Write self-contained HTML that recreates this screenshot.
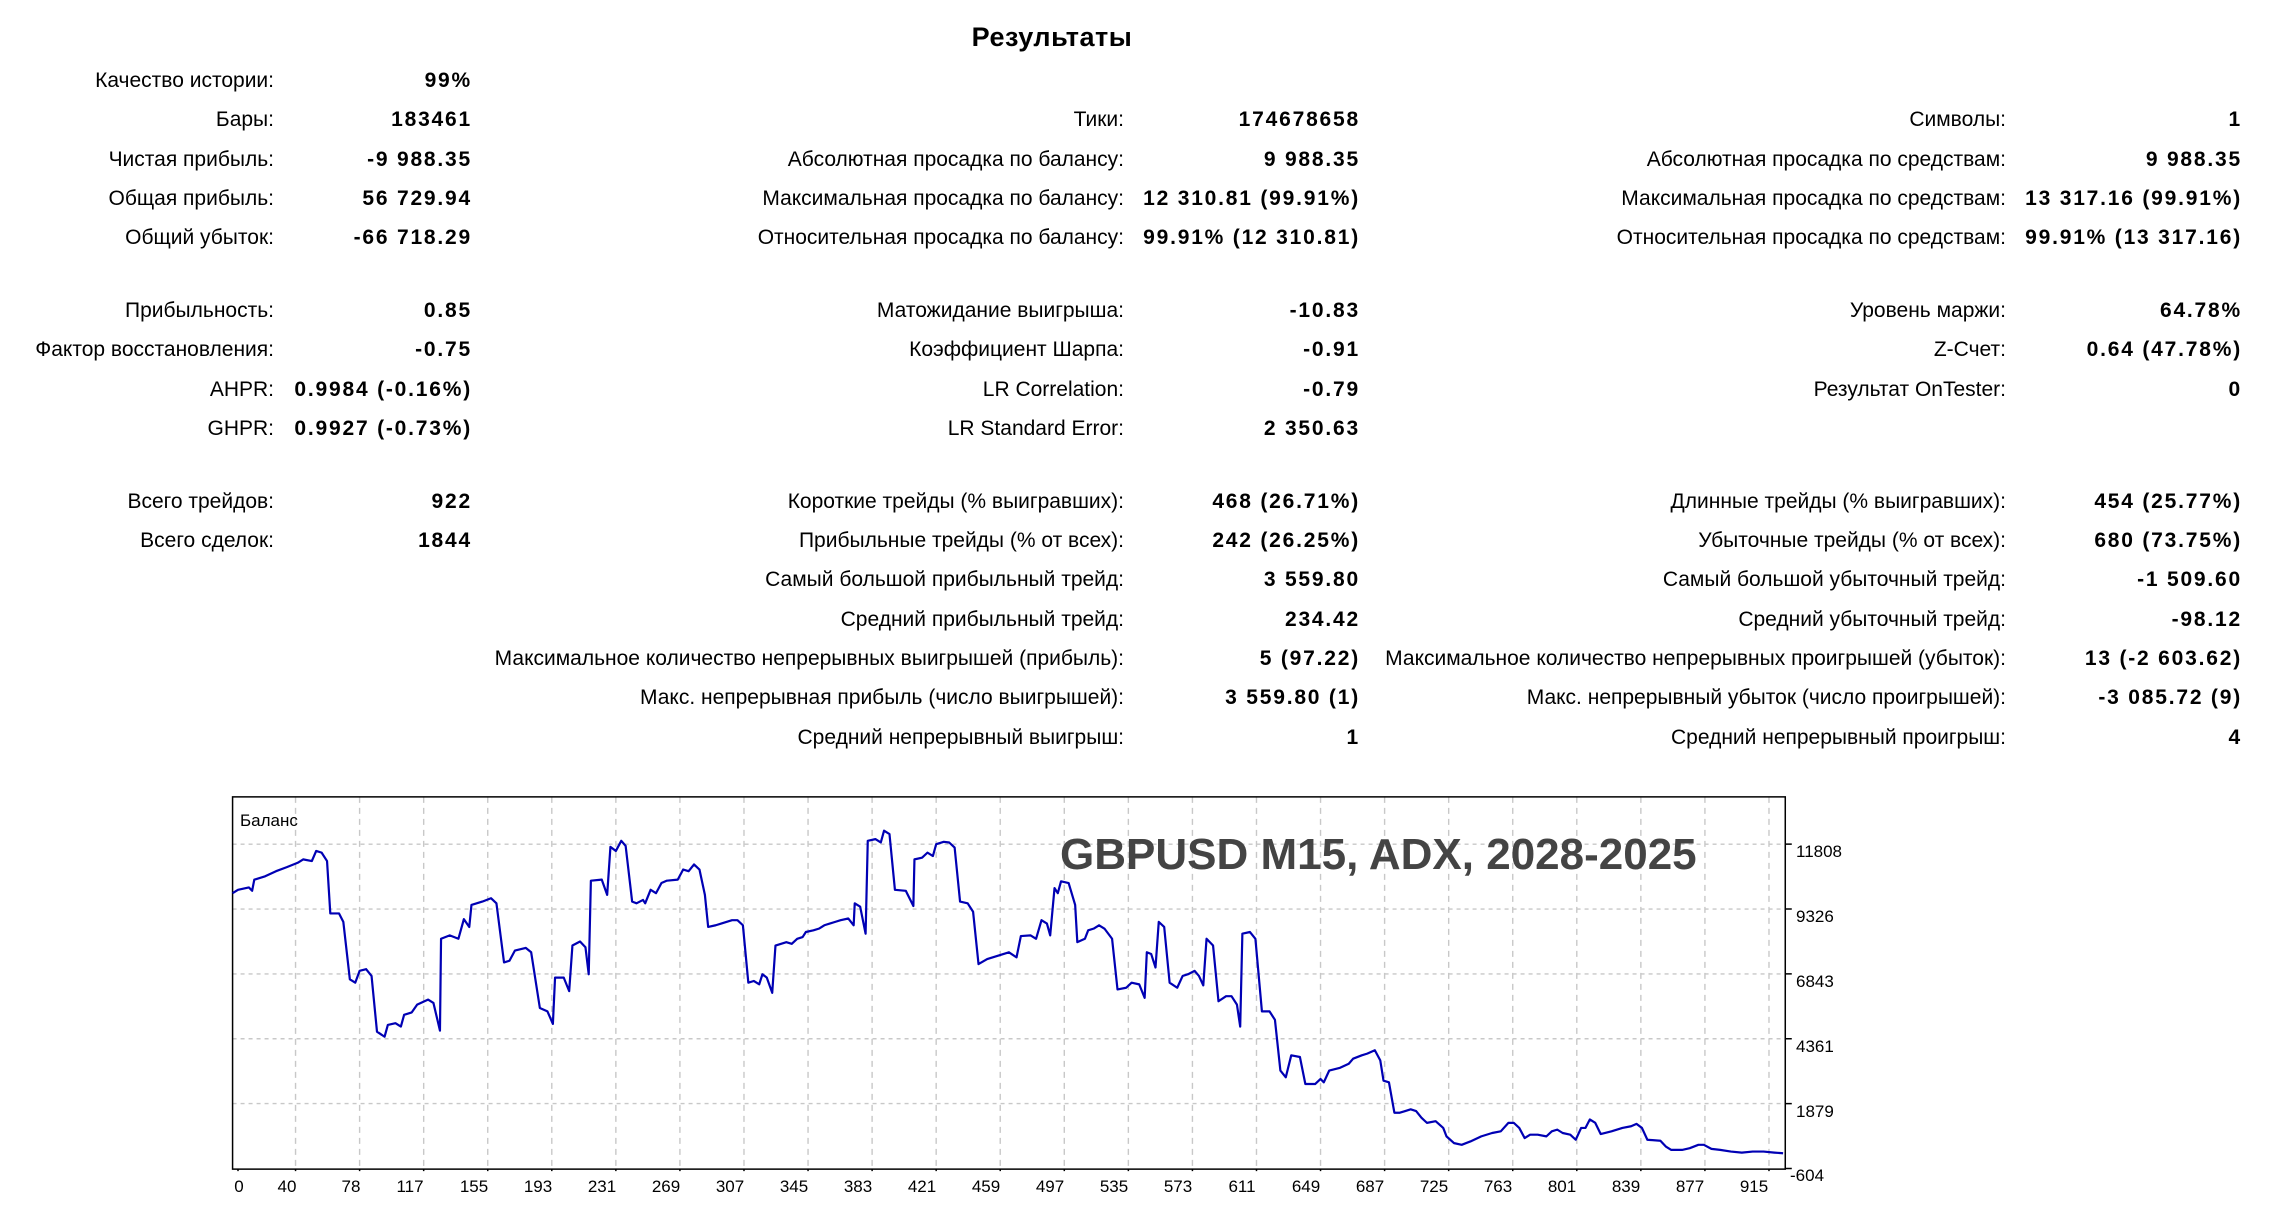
<!DOCTYPE html>
<html><head><meta charset="utf-8"><style>
html,body{margin:0;padding:0;background:#fff;}
svg{display:block;}
.l{font-family:"Liberation Sans",sans-serif;font-size:21px;fill:#000;text-anchor:end;}
.v{font-family:"Liberation Sans",sans-serif;font-size:21px;font-weight:bold;fill:#000;text-anchor:end;letter-spacing:1.8px;}
.ax{font-family:"Liberation Sans",sans-serif;font-size:17px;fill:#000;}
</style></head><body>
<svg width="2272" height="1205" viewBox="0 0 2272 1205" xmlns="http://www.w3.org/2000/svg">
<text x="1052" y="46" style="font-family:'Liberation Sans',sans-serif;font-size:27px;font-weight:bold;letter-spacing:0.5px;" text-anchor="middle">Результаты</text>
<g>
<text class="l" x="274" y="87">Качество истории:</text><text class="v" x="472" y="87">99%</text>
<text class="l" x="274" y="126">Бары:</text><text class="v" x="472" y="126">183461</text>
<text class="l" x="1124" y="126">Тики:</text><text class="v" x="1360" y="126">174678658</text>
<text class="l" x="2006" y="126">Символы:</text><text class="v" x="2242" y="126">1</text>
<text class="l" x="274" y="166">Чистая прибыль:</text><text class="v" x="472" y="166">-9 988.35</text>
<text class="l" x="1124" y="166">Абсолютная просадка по балансу:</text><text class="v" x="1360" y="166">9 988.35</text>
<text class="l" x="2006" y="166">Абсолютная просадка по средствам:</text><text class="v" x="2242" y="166">9 988.35</text>
<text class="l" x="274" y="205">Общая прибыль:</text><text class="v" x="472" y="205">56 729.94</text>
<text class="l" x="1124" y="205">Максимальная просадка по балансу:</text><text class="v" x="1360" y="205">12 310.81 (99.91%)</text>
<text class="l" x="2006" y="205">Максимальная просадка по средствам:</text><text class="v" x="2242" y="205">13 317.16 (99.91%)</text>
<text class="l" x="274" y="244">Общий убыток:</text><text class="v" x="472" y="244">-66 718.29</text>
<text class="l" x="1124" y="244">Относительная просадка по балансу:</text><text class="v" x="1360" y="244">99.91% (12 310.81)</text>
<text class="l" x="2006" y="244">Относительная просадка по средствам:</text><text class="v" x="2242" y="244">99.91% (13 317.16)</text>

<text class="l" x="274" y="317">Прибыльность:</text><text class="v" x="472" y="317">0.85</text>
<text class="l" x="1124" y="317">Матожидание выигрыша:</text><text class="v" x="1360" y="317">-10.83</text>
<text class="l" x="2006" y="317">Уровень маржи:</text><text class="v" x="2242" y="317">64.78%</text>
<text class="l" x="274" y="356">Фактор восстановления:</text><text class="v" x="472" y="356">-0.75</text>
<text class="l" x="1124" y="356">Коэффициент Шарпа:</text><text class="v" x="1360" y="356">-0.91</text>
<text class="l" x="2006" y="356">Z-Счет:</text><text class="v" x="2242" y="356">0.64 (47.78%)</text>
<text class="l" x="274" y="396">AHPR:</text><text class="v" x="472" y="396">0.9984 (-0.16%)</text>
<text class="l" x="1124" y="396">LR Correlation:</text><text class="v" x="1360" y="396">-0.79</text>
<text class="l" x="2006" y="396">Результат OnTester:</text><text class="v" x="2242" y="396">0</text>
<text class="l" x="274" y="435">GHPR:</text><text class="v" x="472" y="435">0.9927 (-0.73%)</text>
<text class="l" x="1124" y="435">LR Standard Error:</text><text class="v" x="1360" y="435">2 350.63</text>

<text class="l" x="274" y="508">Всего трейдов:</text><text class="v" x="472" y="508">922</text>
<text class="l" x="1124" y="508">Короткие трейды (% выигравших):</text><text class="v" x="1360" y="508">468 (26.71%)</text>
<text class="l" x="2006" y="508">Длинные трейды (% выигравших):</text><text class="v" x="2242" y="508">454 (25.77%)</text>
<text class="l" x="274" y="547">Всего сделок:</text><text class="v" x="472" y="547">1844</text>
<text class="l" x="1124" y="547">Прибыльные трейды (% от всех):</text><text class="v" x="1360" y="547">242 (26.25%)</text>
<text class="l" x="2006" y="547">Убыточные трейды (% от всех):</text><text class="v" x="2242" y="547">680 (73.75%)</text>
<text class="l" x="1124" y="586">Самый большой прибыльный трейд:</text><text class="v" x="1360" y="586">3 559.80</text>
<text class="l" x="2006" y="586">Самый большой убыточный трейд:</text><text class="v" x="2242" y="586">-1 509.60</text>
<text class="l" x="1124" y="626">Средний прибыльный трейд:</text><text class="v" x="1360" y="626">234.42</text>
<text class="l" x="2006" y="626">Средний убыточный трейд:</text><text class="v" x="2242" y="626">-98.12</text>
<text class="l" x="1124" y="665">Максимальное количество непрерывных выигрышей (прибыль):</text><text class="v" x="1360" y="665">5 (97.22)</text>
<text class="l" x="2006" y="665">Максимальное количество непрерывных проигрышей (убыток):</text><text class="v" x="2242" y="665">13 (-2 603.62)</text>
<text class="l" x="1124" y="704">Макс. непрерывная прибыль (число выигрышей):</text><text class="v" x="1360" y="704">3 559.80 (1)</text>
<text class="l" x="2006" y="704">Макс. непрерывный убыток (число проигрышей):</text><text class="v" x="2242" y="704">-3 085.72 (9)</text>
<text class="l" x="1124" y="744">Средний непрерывный выигрыш:</text><text class="v" x="1360" y="744">1</text>
<text class="l" x="2006" y="744">Средний непрерывный проигрыш:</text><text class="v" x="2242" y="744">4</text>
</g>

<g transform="translate(200,780) scale(1.0858,0.3378)">
<g stroke="#c8c8c8" stroke-width="1.4" fill="none">
<path vector-effect="non-scaling-stroke" stroke-dasharray="4,4" d="M30,190H1460M30,382H1460M30,574H1460M30,766H1460M30,958H1460"/>
<path vector-effect="non-scaling-stroke" stroke-dasharray="6,5" d="M88,50V1152M147,50V1152M206,50V1152M265,50V1152M324,50V1152M383,50V1152M442,50V1152M501,50V1152M560,50V1152M619,50V1152M678,50V1152M737,50V1152M796,50V1152M855,50V1152M914,50V1152M973,50V1152M1032,50V1152M1091,50V1152M1150,50V1152M1209,50V1152M1268,50V1152M1327,50V1152M1386,50V1152M1445,50V1152"/>
</g>
<rect x="30" y="50" width="1430" height="1102" fill="none" stroke="#000" stroke-width="1.5" vector-effect="non-scaling-stroke"/>
<path vector-effect="non-scaling-stroke" stroke="#000" stroke-width="1.5" d="M1460,190h6M1460,382h6M1460,574h6M1460,766h6M1460,958h6M1460,1150h6M35,1152v6M88,1152v6M147,1152v6M206,1152v6M265,1152v6M324,1152v6M383,1152v6M442,1152v6M501,1152v6M560,1152v6M619,1152v6M678,1152v6M737,1152v6M796,1152v6M855,1152v6M914,1152v6M973,1152v6M1032,1152v6M1091,1152v6M1150,1152v6M1209,1152v6M1268,1152v6M1327,1152v6M1386,1152v6M1445,1152v6"/>
<polyline vector-effect="non-scaling-stroke" fill="none" stroke="#0000b4" stroke-width="2.2" stroke-linejoin="round" points="30,335 35,325 45,318 48,328 50,295 60,285 70,270 80,258 90,245 95,235 103,240 107,210 112,215 117,240 120,395 128,395 132,420 138,590 143,600 147,565 153,560 158,580 163,745 170,760 173,725 180,720 185,730 188,695 195,688 200,665 210,650 215,660 221,742 222,470 230,460 238,470 243,412 248,435 250,370 260,360 268,350 273,365 280,540 285,535 290,505 300,497 305,510 313,675 320,685 325,722 327,585 335,585 340,625 343,490 350,478 355,495 358,575 360,298 370,295 375,340 378,198 383,210 388,180 392,195 398,360 402,365 408,355 410,365 415,325 420,335 425,305 430,298 440,295 445,265 450,270 455,250 460,265 465,340 468,435 475,430 480,425 490,415 495,415 500,430 505,600 510,595 515,605 518,575 522,585 527,630 530,490 540,480 545,485 550,470 555,465 558,450 565,445 570,440 575,430 580,425 585,420 590,415 597,410 602,430 603,365 608,375 613,455 615,180 622,175 627,185 630,150 635,160 640,325 650,328 657,373 658,235 665,230 670,215 675,225 678,190 685,183 690,185 695,200 700,360 707,365 712,390 717,545 725,530 735,520 745,510 752,525 756,462 765,460 770,470 775,415 780,425 783,460 787,320 790,335 793,300 800,305 806,370 808,480 815,470 818,445 823,440 828,430 833,440 840,470 845,620 853,615 858,600 865,605 870,645 872,510 876,515 880,555 883,420 888,435 893,600 900,615 905,580 910,575 916,565 920,580 924,608 927,470 933,490 938,655 945,640 950,640 955,665 958,730 960,455 967,450 972,470 978,685 985,685 990,710 995,860 1000,880 1005,815 1013,820 1018,900 1027,900 1032,885 1035,895 1040,860 1050,852 1058,840 1062,825 1070,815 1075,810 1082,800 1087,830 1090,890 1095,895 1100,985 1105,985 1110,980 1115,975 1120,980 1125,1000 1130,1015 1138,1010 1145,1030 1148,1055 1155,1075 1162,1080 1170,1070 1180,1055 1190,1045 1198,1040 1205,1015 1210,1015 1215,1030 1220,1060 1225,1050 1232,1050 1240,1055 1245,1040 1250,1035 1255,1045 1262,1050 1267,1065 1272,1030 1276,1030 1280,1005 1285,1015 1290,1048 1300,1040 1310,1030 1318,1025 1323,1018 1328,1030 1333,1065 1345,1068 1350,1085 1355,1095 1365,1095 1372,1090 1380,1080 1385,1080 1392,1092 1400,1095 1410,1100 1420,1103 1430,1100 1440,1100 1450,1103 1458,1105"/>
</g>
<text x="240" y="826" style="font-family:'Liberation Sans',sans-serif;font-size:17px;">Баланс</text>
<text x="1060" y="869" style="font-family:'Liberation Sans',sans-serif;font-size:44px;font-weight:bold;fill:#444;">GBPUSD M15, ADX, 2028-2025</text>
<g class="ax">
<text x="1796" y="857">11808</text>
<text x="1796" y="922">9326</text>
<text x="1796" y="987">6843</text>
<text x="1796" y="1052">4361</text>
<text x="1796" y="1117">1879</text>
<text x="1790" y="1181">-604</text>
</g>
<g class="ax" text-anchor="middle">
<text x="239" y="1192">0</text>
<text x="287" y="1192">40</text>
<text x="351" y="1192">78</text>
<text x="410" y="1192">117</text>
<text x="474" y="1192">155</text>
<text x="538" y="1192">193</text>
<text x="602" y="1192">231</text>
<text x="666" y="1192">269</text>
<text x="730" y="1192">307</text>
<text x="794" y="1192">345</text>
<text x="858" y="1192">383</text>
<text x="922" y="1192">421</text>
<text x="986" y="1192">459</text>
<text x="1050" y="1192">497</text>
<text x="1114" y="1192">535</text>
<text x="1178" y="1192">573</text>
<text x="1242" y="1192">611</text>
<text x="1306" y="1192">649</text>
<text x="1370" y="1192">687</text>
<text x="1434" y="1192">725</text>
<text x="1498" y="1192">763</text>
<text x="1562" y="1192">801</text>
<text x="1626" y="1192">839</text>
<text x="1690" y="1192">877</text>
<text x="1754" y="1192">915</text>
</g>
</svg>
</body></html>
